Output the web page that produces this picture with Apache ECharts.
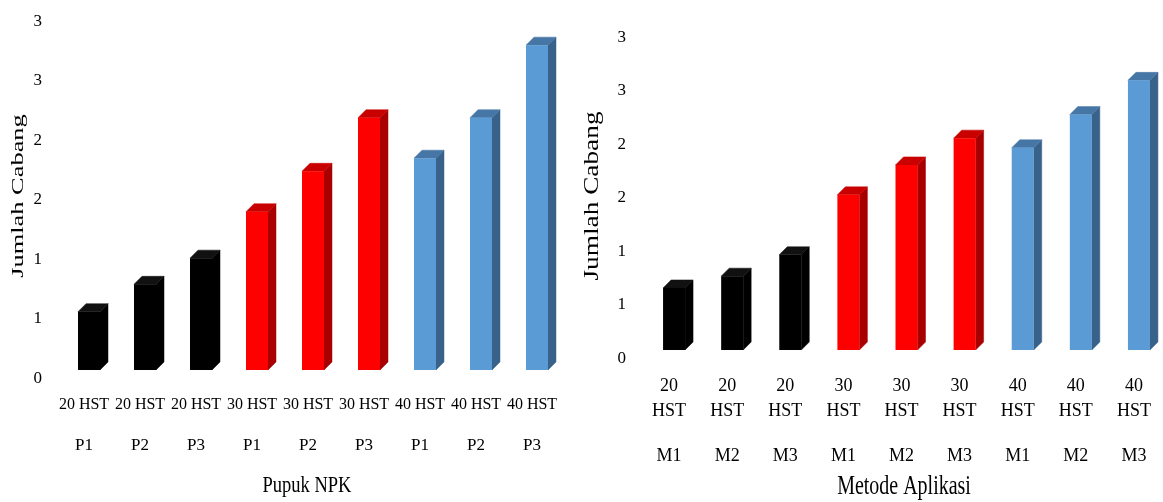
<!DOCTYPE html>
<html>
<head>
<meta charset="utf-8">
<script src="https://cdn.jsdelivr.net/npm/echarts@6/dist/echarts.min.js"></script>
<style>
  html, body { margin: 0; padding: 0; background: #fff; }
  #chart { width: 1163px; height: 502px; }
</style>
</head>
<body>
<div id="chart"></div>
<script>
// data
var hstLabels = ['20 HST', '20 HST', '20 HST', '30 HST', '30 HST', '30 HST', '40 HST', '40 HST', '40 HST'];
var hstGroup = [0, 0, 0, 1, 1, 1, 2, 2, 2];
var npkLabels = ['P1', 'P2', 'P3', 'P1', 'P2', 'P3', 'P1', 'P2', 'P3'];
var npkValues = [0.49, 0.72, 0.94, 1.33, 1.67, 2.12, 1.78, 2.12, 2.73];
var metodeLabels = ['M1', 'M2', 'M3', 'M1', 'M2', 'M3', 'M1', 'M2', 'M3'];
var metodeValues = [0.58, 0.69, 0.89, 1.45, 1.73, 1.98, 1.89, 2.20, 2.52];

// warna: depan, samping, atas
var colors = [
    { front: '#000000', side: '#000000', top: '#111111' },
    { front: '#ff0000', side: '#a80000', top: '#c80000' },
    { front: '#5b9bd5', side: '#38628a', top: '#4676a6' }
];

var serif = '"Liberation Serif", "DejaVu Serif", serif';

function renderBar(params, api) {
    var idx = api.value(0);
    var g = colors[api.value(2)];
    var top = api.coord([idx, api.value(1)]);
    var base = api.coord([idx, 0]);
    var w = 22, d = 8;
    var x0 = top[0] - 6, x1 = x0 + w;
    var y0 = top[1], y1 = base[1];
    return {
        type: 'group',
        children: [
            { type: 'polygon', shape: { points: [[x1, y1], [x1 + d, y1 - d], [x1 + d, y0 - d], [x1, y0]] },
              style: { fill: g.side, stroke: g.side, lineWidth: 0.5 } },
            { type: 'polygon', shape: { points: [[x0, y0], [x1, y0], [x1 + d, y0 - d], [x0 + d, y0 - d]] },
              style: { fill: g.top, stroke: g.top, lineWidth: 0.5 } },
            { type: 'rect', shape: { x: x0, y: y0, width: w, height: y1 - y0 },
              style: { fill: g.front } }
        ]
    };
}

function barData(values) {
    return values.map(function (v, i) { return [i, v, hstGroup[i]]; });
}

function catNames(sub) {
    return sub.map(function (s, i) { return hstLabels[i] + '|' + s; });
}

var myChart = echarts.init(document.getElementById('chart'));

var yAxisBase = {
    type: 'value',
    min: 0,
    max: 3,
    interval: 0.5,
    axisLine: { show: false },
    axisTick: { show: false },
    splitLine: { show: false },
    axisLabel: {
        color: '#000',
        fontFamily: serif,
        fontSize: 17,
        margin: 14,
        verticalAlign: 'top',
        formatter: function (v) { return String(Math.round(v)); }
    }
};

option = {
    animation: false,
    grid: [
        { left: 56, width: 504, top: 13, bottom: 132 },
        { left: 640, width: 534, top: 29, bottom: 152 }
    ],
    xAxis: [
        {
            type: 'category', gridIndex: 0, data: catNames(npkLabels),
            axisLine: { show: false }, axisTick: { show: false },
            axisLabel: {
                interval: 0, margin: 25, color: '#000', fontFamily: serif,
                formatter: function (v, i) { return '{a|' + hstLabels[i] + '}\n{b|' + npkLabels[i] + '}'; },
                rich: {
                    a: { fontFamily: serif, fontSize: 16, lineHeight: 20, color: '#000' },
                    b: { fontFamily: serif, fontSize: 17, lineHeight: 62, color: '#000' }
                }
            }
        },
        {
            type: 'category', gridIndex: 1, data: catNames(metodeLabels),
            axisLine: { show: false }, axisTick: { show: false },
            axisLabel: {
                interval: 0, margin: 24, color: '#000', fontFamily: serif,
                formatter: function (v, i) {
                    var p = hstLabels[i].split(' ');
                    return '{a|' + p[0] + '}\n{a|' + p[1] + '}\n{b|' + metodeLabels[i] + '}';
                },
                rich: {
                    a: { fontFamily: serif, fontSize: 18, lineHeight: 25, color: '#000' },
                    b: { fontFamily: serif, fontSize: 18, lineHeight: 65, color: '#000' }
                }
            }
        }
    ],
    yAxis: [
        Object.assign({ gridIndex: 0 }, yAxisBase),
        Object.assign({ gridIndex: 1 }, yAxisBase)
    ],
    graphic: [
        { type: 'text', x: 19, y: 196, rotation: Math.PI / 2, scaleX: 1.65,
          style: { text: 'Jumlah Cabang', align: 'center', verticalAlign: 'middle', fill: '#000',
                   font: '16px ' + serif } },
        { type: 'text', x: 592, y: 196, rotation: Math.PI / 2, scaleX: 1.3,
          style: { text: 'Jumlah Cabang', align: 'center', verticalAlign: 'middle', fill: '#000',
                   font: '21px ' + serif } },
        { type: 'text', x: 307, y: 486, scaleX: 0.77,
          style: { text: 'Pupuk NPK', align: 'center', verticalAlign: 'middle', fill: '#000',
                   font: '24px ' + serif } },
        { type: 'text', x: 904, y: 487, scaleX: 0.74,
          style: { text: 'Metode Aplikasi', align: 'center', verticalAlign: 'middle', fill: '#000',
                   font: '27px ' + serif } }
    ],
    series: [
        { type: 'custom', xAxisIndex: 0, yAxisIndex: 0, renderItem: renderBar,
          encode: { x: 0, y: 1 }, data: barData(npkValues) },
        { type: 'custom', xAxisIndex: 1, yAxisIndex: 1, renderItem: renderBar,
          encode: { x: 0, y: 1 }, data: barData(metodeValues) }
    ]
};

myChart.setOption(option, true);
</script>
</body>
</html>
